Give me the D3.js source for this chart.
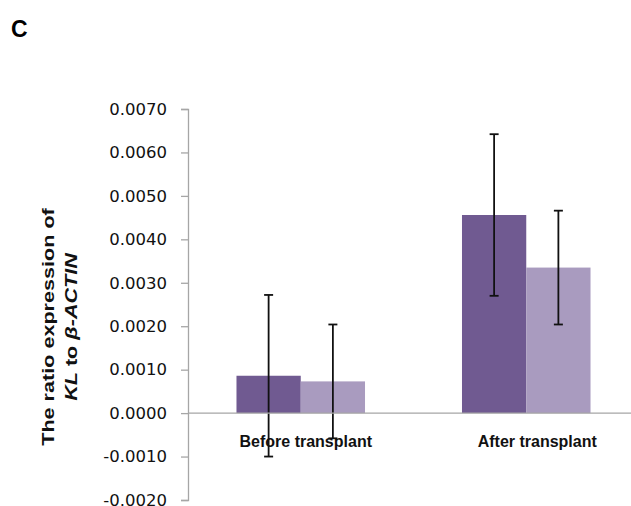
<!DOCTYPE html>
<html>
<head>
<meta charset="utf-8">
<script src="https://cdn.jsdelivr.net/npm/d3@7"></script>
<style>
  html, body { margin: 0; padding: 0; background: #fff; }
  svg { display: block; }
</style>
</head>
<body>
<svg id="chart" width="631" height="506"></svg>
<script>
// KL / β-ACTIN expression ratio, before and after transplant
const categories = ["Before transplant", "After transplant"];
const seriesNames = ["Series A", "Series B"];
const seriesA = [0.00086, 0.00456];
const seriesB = [0.00073, 0.00335];
const errorsA = [0.00186, 0.00186];
const errorsB = [0.00131, 0.00131];
const yTicks = [-0.002, -0.001, 0, 0.001, 0.002, 0.003, 0.004, 0.005, 0.006, 0.007];
const colors = ["#705a91", "#a99bbf"];

const svg = d3.select("#chart");

const y = d3.scaleLinear().domain([-0.002, 0.007]).range([500, 109]);
const x0 = d3.scaleBand().domain(categories).range([188, 639]).paddingInner(0).paddingOuter(0);
const groupW = x0.bandwidth() * 0.57;
const x1 = d3.scaleBand().domain(seriesNames).range([0, groupW]).padding(0);

const rows = categories.map((c, i) => ({
  cat: c,
  vals: [
    { s: seriesNames[0], v: seriesA[i], e: errorsA[i], color: colors[0] },
    { s: seriesNames[1], v: seriesB[i], e: errorsB[i], color: colors[1] }
  ]
}));

// Panel letter
svg.append("text")
  .attr("x", 11).attr("y", 37)
  .attr("font-family", "Liberation Sans, Arial, sans-serif")
  .attr("font-weight", "bold").attr("font-size", 23)
  .text("C");

// Bars
const groups = svg.append("g").selectAll("g").data(rows).join("g")
  .attr("transform", d => `translate(${x0(d.cat) + (x0.bandwidth() - groupW) / 2},0)`);

groups.selectAll("rect").data(d => d.vals).join("rect")
  .attr("x", d => x1(d.s))
  .attr("width", x1.bandwidth())
  .attr("y", d => y(Math.max(0, d.v)))
  .attr("height", d => Math.abs(y(d.v) - y(0)))
  .attr("fill", d => d.color);

// Y axis
const yAxis = d3.axisLeft(y).tickValues(yTicks).tickSize(7).tickPadding(14)
  .tickFormat(d3.format(".4f"));
const ya = svg.append("g").attr("transform", "translate(188,0)").call(yAxis);
ya.select(".domain").attr("stroke", "#a6a6a6").attr("stroke-width", 1.3);
ya.selectAll(".tick line").attr("stroke", "#a6a6a6").attr("stroke-width", 1.3);
ya.selectAll(".tick text")
  .attr("font-family", "DejaVu Sans, sans-serif")
  .attr("font-size", 16.5)
  .attr("fill", "#111")
  .text(d => d < 0 ? "-" + d3.format(".4f")(-d) : d3.format(".4f")(d));

// Zero baseline
svg.append("line")
  .attr("x1", 188).attr("x2", 631)
  .attr("y1", y(0)).attr("y2", y(0))
  .attr("stroke", "#a6a6a6").attr("stroke-width", 1.3);

// Error bars
const capW = 9;
groups.selectAll("g.err").data(d => d.vals).join("g").attr("class", "err")
  .each(function(d) {
    const g = d3.select(this);
    const cx = x1(d.s) + x1.bandwidth() / 2;
    const yt = y(d.v + d.e), yb = y(d.v - d.e);
    g.append("line").attr("x1", cx).attr("x2", cx).attr("y1", yt).attr("y2", yb);
    g.append("line").attr("x1", cx - capW / 2).attr("x2", cx + capW / 2).attr("y1", yt).attr("y2", yt);
    g.append("line").attr("x1", cx - capW / 2).attr("x2", cx + capW / 2).attr("y1", yb).attr("y2", yb);
    g.selectAll("line").attr("stroke", "#111").attr("stroke-width", 1.8);
  });

// Category labels
const labelShift = [5, 11];
svg.append("g").selectAll("text").data(categories).join("text")
  .attr("x", (d, i) => x0(d) + x0.bandwidth() / 2 + labelShift[i])
  .attr("y", 446.5)
  .attr("text-anchor", "middle")
  .attr("font-family", "Liberation Sans, Arial, sans-serif")
  .attr("font-weight", "bold")
  .attr("font-size", 16)
  .attr("fill", "#111")
  .text(d => d);

// Y axis title (two lines, rotated)
const title = svg.append("g")
  .attr("transform", "translate(0,327) rotate(-90) scale(1.35,1)")
  .attr("font-family", "Liberation Sans, Arial, sans-serif")
  .attr("font-weight", "bold")
  .attr("font-size", 16)
  .attr("fill", "#111")
  .attr("text-anchor", "middle");

title.append("text").attr("x", 0).attr("y", 54)
  .text("The ratio expression of");

const t2 = title.append("text").attr("x", 0).attr("y", 77);
t2.append("tspan").attr("font-style", "italic").text("KL");
t2.append("tspan").text(" to ");
t2.append("tspan").attr("font-style", "italic").text("β-ACTIN");
</script>
</body>
</html>
